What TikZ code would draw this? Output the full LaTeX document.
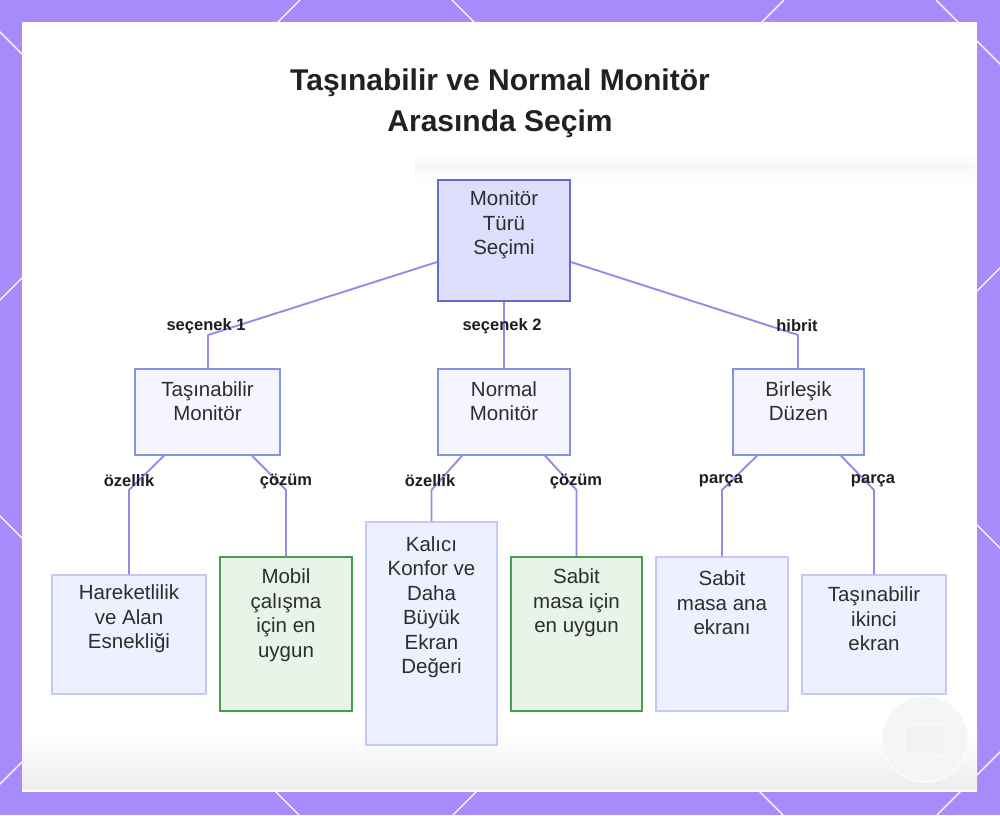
\documentclass[tikz,border=0pt]{standalone}
\usepackage{fontspec}
\setmainfont{Liberation Sans}
\usetikzlibrary{calc}
\definecolor{bgpurple}{RGB}{167,139,250}
\definecolor{edgec}{RGB}{160,132,232}
\definecolor{rootfill}{RGB}{221,222,252}
\definecolor{rootdraw}{RGB}{98,108,210}
\definecolor{lvfill}{RGB}{244,245,255}
\definecolor{lvdraw}{RGB}{134,148,232}
\definecolor{leaffill}{RGB}{238,240,255}
\definecolor{leafdraw}{RGB}{196,202,245}
\definecolor{grfill}{RGB}{231,244,231}
\definecolor{grdraw}{RGB}{64,160,80}
\definecolor{txtc}{RGB}{45,45,45}
\definecolor{lblc}{RGB}{30,30,30}
\begin{document}
\begin{tikzpicture}[x=1pt,y=-1pt,
  rootbox/.style={draw=rootdraw,fill=rootfill,line width=1.8pt,inner sep=0pt},
  midbox/.style={draw=lvdraw,fill=lvfill,line width=1.4pt,inner sep=0pt},
  leafbox/.style={draw=leafdraw,fill=leaffill,line width=1.4pt,inner sep=0pt},
  greenbox/.style={draw=grdraw,fill=grfill,line width=1.6pt,inner sep=0pt},
  txt/.style={align=center,text=txtc,font=\fontsize{20.5}{24.5}\selectfont,inner sep=0pt},
  lbl/.style={text=lblc,font=\fontsize{16.5}{19}\selectfont\bfseries,inner sep=0pt},
  edge/.style={draw=edgec,line width=1.9pt,line join=round}]
\useasboundingbox (0,0) rectangle (1000,815);
% background
\fill[bgpurple] (0,0) rectangle (1000,815);
\begin{scope}
\clip (0,0) rectangle (1000,815);
\foreach \c in {300,784,1268,1752} \draw[white,line width=1.3pt] (\c,0) -- (\c-900,900);
\foreach \d in {-516,-32,452,936} \draw[white,line width=1.3pt] (\d,0) -- (\d+900,900);
\end{scope}
\fill[white] (22,22) rectangle (977,792);
% faint ghost background
\shade[top color=white,bottom color=black!7] (22,730) rectangle (977,790);
\shade[top color=white,bottom color=black!3] (415,152) rectangle (975,166);
\shade[top color=black!3,bottom color=white] (415,166) rectangle (975,186);
\draw[white,line width=1pt,fill=black!4] (925,739) circle (43pt);
\draw[white,line width=0.8pt,fill=black!5,rounded corners=3pt] (905,725) rectangle (945,755);
\fill[white] (22,790) rectangle (977,792);
% title
\node[align=center,text=black!87,font=\fontsize{30}{41}\selectfont\bfseries,inner sep=0pt] (title) at (500,103) {Taşınabilir ve Normal Monitör\\Arasında Seçim};
% boxes
\node[rootbox,minimum width=132pt,minimum height=121pt] (root) at (504,240.5) {};
\node[midbox,minimum width=145pt,minimum height=86pt] (tm) at (207.5,412) {};
\node[midbox,minimum width=132pt,minimum height=86pt] (nm) at (504,412) {};
\node[midbox,minimum width=131pt,minimum height=86pt] (bd) at (798.5,412) {};
\node[leafbox,minimum width=154pt,minimum height=119pt] (hk) at (129,634.5) {};
\node[greenbox,minimum width=132pt,minimum height=154pt] (mb) at (286,634) {};
\node[leafbox,minimum width=131pt,minimum height=223pt] (kk) at (431.5,633.5) {};
\node[greenbox,minimum width=131pt,minimum height=154pt] (sm) at (576.5,634) {};
\node[leafbox,minimum width=132pt,minimum height=154pt] (sa) at (722,634) {};
\node[leafbox,minimum width=144pt,minimum height=119pt] (ti) at (874,634.5) {};
% connectors
\coordinate (c1) at (208,335);
\coordinate (c3) at (798,335);
\coordinate (d1) at (129,490);
\coordinate (d2) at (286,490);
\coordinate (d3) at (431.5,490);
\coordinate (d4) at (576.5,490);
\coordinate (d5) at (722,490);
\coordinate (d6) at (874,490);
\draw[edge] ($(root.west)+(0,21.5)$) -- (c1) -- (c1 |- tm.north);
\draw[edge] (root.south) -- (nm.north);
\draw[edge] ($(root.east)+(0,21.5)$) -- (c3) -- (c3 |- bd.north);
\draw[edge] ($(tm.south)+(-43.5,0)$) -- (d1) -- (d1 |- hk.north);
\draw[edge] ($(tm.south)+(44.5,0)$) -- (d2) -- (d2 |- mb.north);
\draw[edge] ($(nm.south)+(-42,0)$) -- (d3) -- (d3 |- kk.north);
\draw[edge] ($(nm.south)+(41,0)$) -- (d4) -- (d4 |- sm.north);
\draw[edge] ($(bd.south)+(-41.5,0)$) -- (d5) -- (d5 |- sa.north);
\draw[edge] ($(bd.south)+(42.5,0)$) -- (d6) -- (d6 |- ti.north);
% box texts
\node[txt] (rootT) at (504,225) {Monitör\\Türü\\Seçimi};
\node[txt] (tmT) at (207.5,401) {Taşınabilir\\Monitör};
\node[txt] (nmT) at (504,401) {Normal\\Monitör};
\node[txt] (bdT) at (798.5,401) {Birleşik\\Düzen};
\node[txt] (hkT) at (129,619) {Hareketlilik\\ve Alan\\Esnekliği};
\node[txt] (mbT) at (286,615) {Mobil\\çalışma\\için en\\uygun};
\node[txt] (kkT) at (431.5,607) {Kalıcı\\Konfor ve\\Daha\\Büyük\\Ekran\\Değeri};
\node[txt] (smT) at (576.5,603) {Sabit\\masa için\\en uygun};
\node[txt] (saT) at (722,603) {Sabit\\masa ana\\ekranı};
\node[txt] (tiT) at (874,619) {Taşınabilir\\ikinci\\ekran};
% edge labels
\node[lbl] (l1) at (206,326) {seçenek 1};
\node[lbl] (l2) at (502,326) {seçenek 2};
\node[lbl] (l3) at (797,326) {hibrit};
\node[lbl] (l4) at (129,481) {özellik};
\node[lbl] (l5) at (286,481) {çözüm};
\node[lbl] (l6) at (430,481) {özellik};
\node[lbl] (l7) at (576,481) {çözüm};
\node[lbl] (l8) at (721,481) {parça};
\node[lbl] (l9) at (873,481) {parça};
\end{tikzpicture}
\end{document}
